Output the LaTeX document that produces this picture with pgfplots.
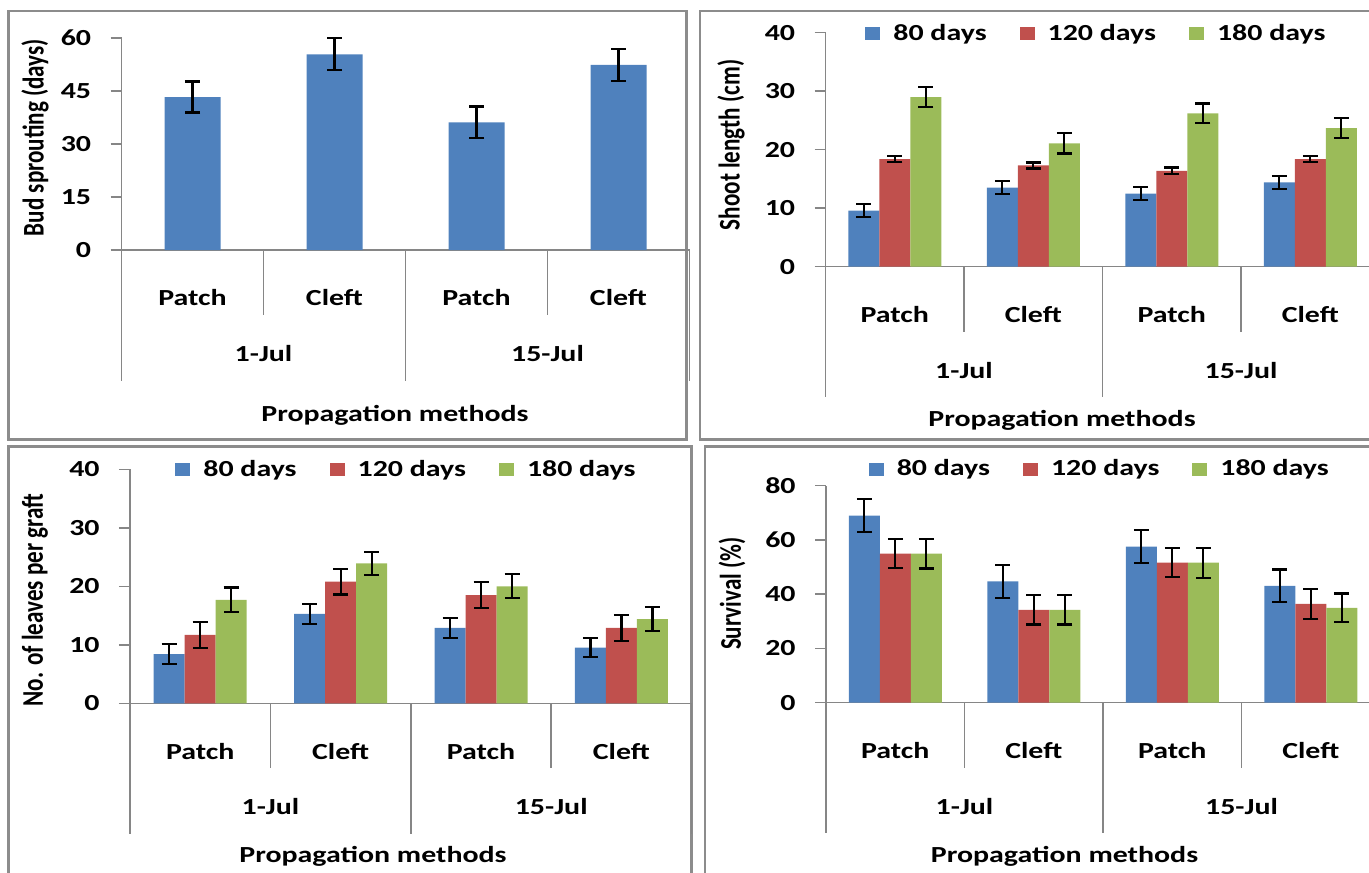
\documentclass[border=0pt]{standalone}
\usepackage{fontspec}
\setmainfont{Carlito}[FakeStretch=1.3]
\newfontfamily\yfont{Carlito}[FakeStretch=0.77]
\usepackage{pgfplots}
\pgfplotsset{compat=1.18}
\definecolor{cb}{HTML}{4F81BD}
\definecolor{cr}{HTML}{C0504D}
\definecolor{cg}{HTML}{9BBB59}
\definecolor{axgrey}{HTML}{868686}
\definecolor{bdgrey}{HTML}{8C8C8C}
\newcommand\tf{\fontsize{11.5}{13}\selectfont\bfseries}
\newcommand\yf{\yfont\fontsize{15}{16}\selectfont\bfseries}
\pgfplotsset{
  panel/.style={
    scale only axis, clip=false,
    ybar=0pt, xmin=-0.5, xmax=3.5, ymin=0,
    axis x line*=bottom, axis y line*=left,
    axis line style={axgrey, line width=0.75pt},
    tick align=outside, major tick length=5.5pt,
    ytick style={axgrey, line width=0.75pt},
    xtick={0,1,2,3}, xticklabels={Patch,Cleft,Patch,Cleft},
    xtick style={draw=none},
    xticklabel style={anchor=center, yshift=-18.5pt, font=\tf},
    yticklabel style={font=\tf, anchor=east, inner sep=0pt, xshift=-9.5pt},
    /pgf/number format/assume math mode=true,
    legend columns=3,
    legend style={draw=none, fill=none, font=\tf, inner sep=0pt, anchor=west,
      /tikz/every even column/.append style={column sep=14.5pt}},
    legend image code/.code={\fill[##1] (0pt,-3.25pt) rectangle (7.5pt,3.25pt); \path (12pt,0pt);},
  },
  errb/.style={error bars/.cd, y dir=both, y explicit,
    error bar style={black, line width=1.1pt},
    error mark options={rotate=90, black, line width=1.1pt, mark size=3.75pt}},
  grp/.style={
    execute at end axis={
      \draw[axgrey, line width=0.75pt] (axis cs:0.5,0) -- ([yshift=-32.5pt]axis cs:0.5,0);
      \draw[axgrey, line width=0.75pt] (axis cs:2.5,0) -- ([yshift=-32.5pt]axis cs:2.5,0);
      \draw[axgrey, line width=0.75pt] (axis cs:-0.5,0) -- ([yshift=-65.25pt]axis cs:-0.5,0);
      \draw[axgrey, line width=0.75pt] (axis cs:1.5,0) -- ([yshift=-65.25pt]axis cs:1.5,0);
      \draw[axgrey, line width=0.75pt] (axis cs:3.5,0) -- ([yshift=-65.25pt]axis cs:3.5,0);
      \node[font=\tf] at ([yshift=-51.75pt]axis cs:0.5,0) {1-Jul};
      \node[font=\tf] at ([yshift=-51.75pt]axis cs:2.5,0) {15-Jul};
    }
  },
}
\begin{document}
\begin{tikzpicture}
\path[use as bounding box] (0pt,0pt) rectangle (684.5pt,-436pt);
% panel borders
\draw[bdgrey, line width=1.25pt] (4.15pt,-5.5pt) rectangle (343.35pt,-219.65pt);
\draw[bdgrey, line width=1.25pt] (350pt,-5.5pt) rectangle (700pt,-219.75pt);
\draw[bdgrey, line width=1.25pt] (4.15pt,-223.25pt) rectangle (345.85pt,-450pt);
\draw[bdgrey, line width=1.25pt] (352.5pt,-223.25pt) rectangle (700pt,-450pt);

% Panel 1: Bud sprouting
\begin{axis}[panel, grp, at={(60.75pt,-125pt)}, anchor=south west,
  width=284pt, height=106pt, ymax=60, ytick={0,15,30,45,60},
  bar width=28pt]
\addplot[fill=cb, draw=none, errb] coordinates {
  (0,43.3) +- (0,4.4)
  (1,55.4) +- (0,4.5)
  (2,36.1) +- (0,4.5)
  (3,52.4) +- (0,4.5)
};
\end{axis}
\node[font=\yf, rotate=90] at (17.5pt,-68.75pt) {Bud sprouting (days)};
\node[font=\tf] at (197.5pt,-207.5pt) {Propagation methods};

% Panel 2: Shoot length
\begin{axis}[panel, grp, at={(412.75pt,-133.35pt)}, anchor=south west,
  width=277pt, height=117pt, ymax=40, ytick={0,10,20,30,40},
  bar width=15.5pt, legend style={at={(0.0713,0.9957)}}]
\addplot[fill=cb, draw=none, errb] coordinates {
  (0,9.6) +- (0,1.1)
  (1,13.5) +- (0,1.1)
  (2,12.5) +- (0,1.1)
  (3,14.4) +- (0,1.1)
};
\addplot[fill=cr, draw=none, errb] coordinates {
  (0,18.4) +- (0,0.55)
  (1,17.3) +- (0,0.5)
  (2,16.4) +- (0,0.55)
  (3,18.4) +- (0,0.55)
};
\addplot[fill=cg, draw=none, errb] coordinates {
  (0,29.0) +- (0,1.7)
  (1,21.1) +- (0,1.75)
  (2,26.2) +- (0,1.7)
  (3,23.7) +- (0,1.75)
};
\legend{80 days,120 days,180 days}
\end{axis}
\node[font=\yf, rotate=90] at (365.5pt,-72.5pt) {Shoot length (cm)};
\node[font=\tf] at (531pt,-210pt) {Propagation methods};

% Panel 3: No. of leaves
\begin{axis}[panel, grp, at={(65pt,-351.65pt)}, anchor=south west,
  width=280.8pt, height=117pt, ymax=40, ytick={0,10,20,30,40},
  bar width=15.5pt, legend style={at={(0.0801,0.998)}}]
\addplot[fill=cb, draw=none, errb] coordinates {
  (0,8.4) +- (0,1.7)
  (1,15.3) +- (0,1.7)
  (2,12.9) +- (0,1.7)
  (3,9.5) +- (0,1.6)
};
\addplot[fill=cr, draw=none, errb] coordinates {
  (0,11.7) +- (0,2.2)
  (1,20.8) +- (0,2.2)
  (2,18.5) +- (0,2.2)
  (3,12.9) +- (0,2.2)
};
\addplot[fill=cg, draw=none, errb] coordinates {
  (0,17.7) +- (0,2.1)
  (1,23.9) +- (0,2.0)
  (2,20.0) +- (0,2.05)
  (3,14.4) +- (0,2.1)
};
\legend{80 days,120 days,180 days}
\end{axis}
\node[font=\yf, rotate=90] at (17.5pt,-300pt) {No. of leaves per graft};
\node[font=\tf] at (186.5pt,-428pt) {Propagation methods};

% Panel 4: Survival
\begin{axis}[panel, grp, at={(413pt,-351.35pt)}, anchor=south west,
  width=277pt, height=108.5pt, ymax=80, ytick={0,20,40,60,80},
  bar width=15.5pt, legend style={at={(0.0765,1.0756)}}]
\addplot[fill=cb, draw=none, errb] coordinates {
  (0,69.0) +- (0,6.0)
  (1,44.7) +- (0,6.0)
  (2,57.5) +- (0,6.1)
  (3,43.1) +- (0,6.0)
};
\addplot[fill=cr, draw=none, errb] coordinates {
  (0,55.0) +- (0,5.4)
  (1,34.2) +- (0,5.4)
  (2,51.6) +- (0,5.3)
  (3,36.4) +- (0,5.4)
};
\addplot[fill=cg, draw=none, errb] coordinates {
  (0,55.0) +- (0,5.5)
  (1,34.2) +- (0,5.4)
  (2,51.6) +- (0,5.5)
  (3,35.0) +- (0,5.3)
};
\legend{80 days,120 days,180 days}
\end{axis}
\node[font=\yf, rotate=90] at (366pt,-296.85pt) {Survival (\%)};
\node[font=\tf] at (532.25pt,-428.35pt) {Propagation methods};
\end{tikzpicture}
\end{document}
